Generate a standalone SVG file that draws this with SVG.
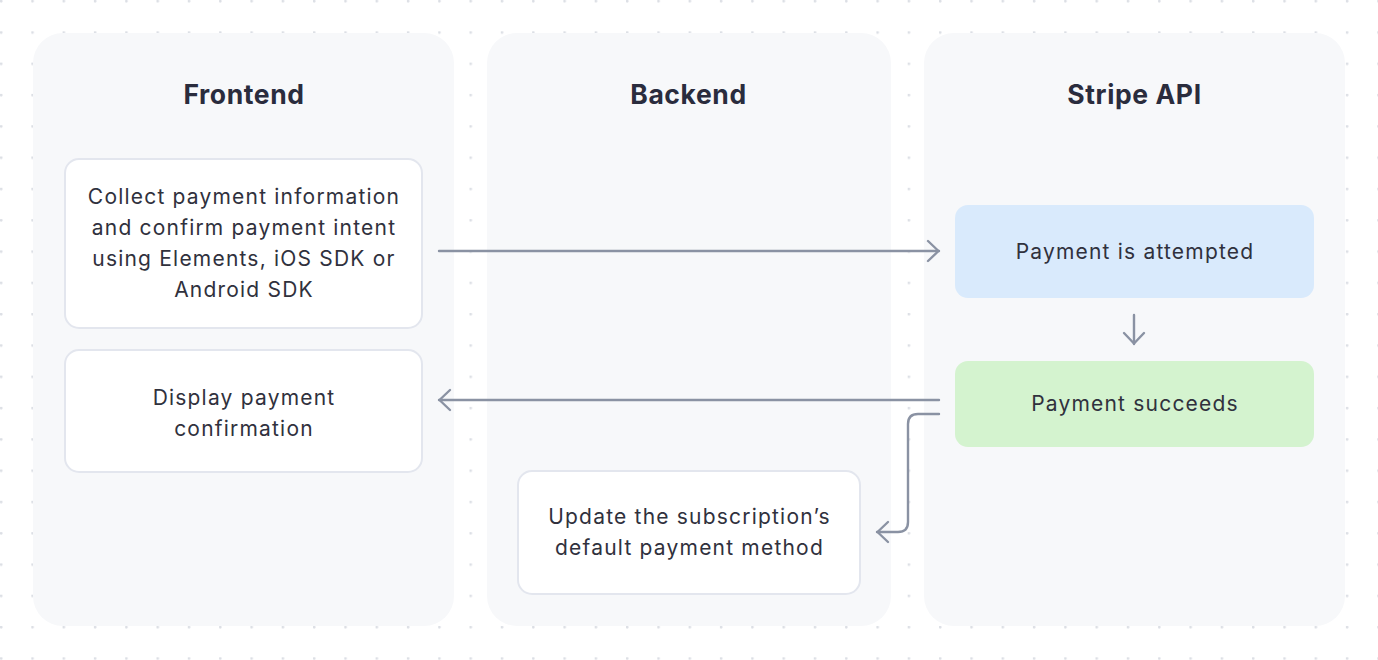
<svg xmlns="http://www.w3.org/2000/svg" width="1378" height="660" viewBox="0 0 1378 660">
  <defs>
    <pattern id="dots" x="0" y="0" width="31.3" height="31.3" patternUnits="userSpaceOnUse">
      <circle cx="1.2" cy="1.2" r="1.4" fill="#dcdfe5"/>
    </pattern>
    <marker id="arrow" viewBox="0 0 16 24" refX="14" refY="12" markerWidth="16" markerHeight="24" markerUnits="userSpaceOnUse" orient="auto">
      <path d="M3,2 L13.5,12 L3,22" fill="none" stroke="#8a92a3" stroke-width="2.4" stroke-linecap="round" stroke-linejoin="round"/>
    </marker>
    <style>
      .panel { fill: #f7f8fa; }
      .title { font-family: Inter, "Liberation Sans", sans-serif; font-size: 26.5px; font-weight: 700; fill: #2a2c3d; text-anchor: middle; letter-spacing: 0.6px; }
      .label { font-family: Inter, "Liberation Sans", sans-serif; font-size: 21px; fill: #30313d; text-anchor: middle; letter-spacing: 1.2px; }
      .box { fill: #ffffff; stroke: #e3e6ee; stroke-width: 2; }
      .conn { fill: none; stroke: #8a92a3; stroke-width: 2.4; stroke-linecap: round; stroke-linejoin: round; }
    </style>
  </defs>
  <rect width="1378" height="660" fill="#ffffff"/>
  <rect width="1378" height="660" fill="url(#dots)"/>

  <g id="lane-frontend">
    <rect class="panel" x="33" y="33" width="421" height="593" rx="30"/>
    <text class="title" x="244" y="104">Frontend</text>
  </g>
  <g id="lane-backend">
    <rect class="panel" x="487" y="33" width="404" height="593" rx="30"/>
    <text class="title" x="688.5" y="104">Backend</text>
  </g>
  <g id="lane-stripe">
    <rect class="panel" x="924" y="33" width="421" height="593" rx="30"/>
    <text class="title" x="1134.5" y="104">Stripe API</text>
  </g>

  <g id="node-collect">
    <rect class="box" x="65" y="159" width="357" height="169" rx="14"/>
    <text class="label" x="244" y="204">Collect payment information</text>
    <text class="label" x="244" y="235">and confirm payment intent</text>
    <text class="label" x="244" y="266">using Elements, iOS SDK or</text>
    <text class="label" x="244" y="297">Android SDK</text>
  </g>
  <g id="node-display">
    <rect class="box" x="65" y="350" width="357" height="122" rx="14"/>
    <text class="label" x="244" y="405">Display payment</text>
    <text class="label" x="244" y="436">confirmation</text>
  </g>
  <g id="node-attempted">
    <rect x="955" y="205" width="359" height="93" rx="13" fill="#d9eafc"/>
    <text class="label" x="1135" y="259">Payment is attempted</text>
  </g>
  <g id="node-succeeds">
    <rect x="955" y="361" width="359" height="86" rx="13" fill="#d4f3cf"/>
    <text class="label" x="1135" y="411">Payment succeeds</text>
  </g>
  <g id="node-update">
    <rect class="box" x="518" y="471" width="342" height="123" rx="14"/>
    <text class="label" x="689.5" y="524">Update the subscription’s</text>
    <text class="label" x="689.5" y="555">default payment method</text>
  </g>

  <g id="connectors">
    <path class="conn" d="M439,251 L939,251" marker-end="url(#arrow)"/>
    <path class="conn" d="M1134,315 L1134,344" marker-end="url(#arrow)"/>
    <path class="conn" d="M939,400 L439,400" marker-end="url(#arrow)"/>
    <path class="conn" d="M939,414 L918,414 Q908,414 908,424 L908,522 Q908,532 898,532 L877,532" marker-end="url(#arrow)"/>
  </g>
</svg>
